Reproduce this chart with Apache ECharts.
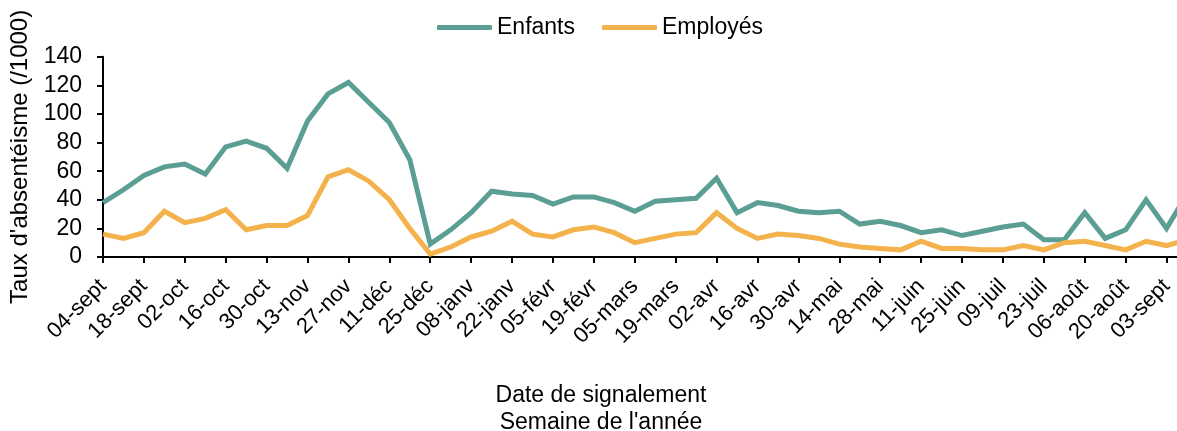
<!DOCTYPE html>
<html>
<head>
<meta charset="utf-8">
<script src="https://cdn.jsdelivr.net/npm/echarts@6/dist/echarts.min.js"></script>
<style>
html,body{margin:0;padding:0;background:#fff;}
#chart{width:1177px;height:431px;}
</style>
</head>
<body>
<div id="chart"></div>
<script>
const weeks = ["04-sept","11-sept","18-sept","25-sept","02-oct","09-oct","16-oct","23-oct","30-oct","06-nov","13-nov","20-nov","27-nov","04-déc","11-déc","18-déc","25-déc","01-janv","08-janv","15-janv","22-janv","29-janv","05-févr","12-févr","19-févr","26-févr","05-mars","12-mars","19-mars","26-mars","02-avr","09-avr","16-avr","23-avr","30-avr","07-mai","14-mai","21-mai","28-mai","04-juin","11-juin","18-juin","25-juin","02-juil","09-juil","16-juil","23-juil","30-juil","06-août","13-août","20-août","27-août","03-sept","10-sept"];
const enfants = [38,47,57,63,65,58,77,81,76,62,95,114,122,108,94,68,9,19,31,46,44,43,37,42,42,38,32,39,40,41,55,31,38,36,32,31,32,23,25,22,17,19,15,18,21,23,12,12,31,13,19,40,20,44];
const employes = [16,13,17,32,24,27,33,19,22,22,29,56,61,53,40,20,2,7,14,18,25,16,14,19,21,17,10,13,16,17,31,20,13,16,15,13,9,7,6,5,11,6,6,5,5,8,5,10,11,8,5,11,8,12];
const yTicks = {min:0, max:140, interval:20};

const FONT = '"Liberation Sans", Arial, Helvetica, sans-serif';
const chart = echarts.init(document.getElementById('chart'));
chart.setOption({
  animation: false,
  backgroundColor: '#fff',
  textStyle: {fontFamily: FONT, color: '#000'},
  title: {
    text: 'Date de signalement\nSemaine de l\'année',
    left: 601, top: 382, textAlign: 'center', padding: 0,
    textStyle: {fontFamily: FONT, fontSize: 23, fontWeight: 'normal', color: '#000', lineHeight: 27}
  },
  legend: {
    left: 437, top: 16, padding: 0,
    icon: 'roundRect',
    itemWidth: 55, itemHeight: 5, itemGap: 27,
    textStyle: {fontFamily: FONT, fontSize: 23, color: '#000'},
    data: ['Enfants','Employés']
  },
  grid: {left: 103, right: -10, top: 56.7, bottom: 174, containLabel: false, outerBoundsMode: 'none'},
  xAxis: {
    type: 'category',
    data: weeks,
    boundaryGap: false,
    axisLine: {lineStyle: {color: '#000', width: 2}},
    axisTick: {interval: 1, length: 6, lineStyle: {color: '#000', width: 2}},
    axisLabel: {interval: 1, rotate: 45, fontSize: 22, color: '#000', fontFamily: FONT, margin: 26}
  },
  yAxis: {
    type: 'value',
    min: yTicks.min, max: yTicks.max, interval: yTicks.interval,
    name: 'Taux d\'absentéisme (/1000)',
    nameLocation: 'middle', nameGap: 63,
    nameTextStyle: {fontSize: 24, color: '#000', fontFamily: FONT},
    axisLine: {show: true, lineStyle: {color: '#000', width: 2}},
    axisTick: {show: true, length: 6, lineStyle: {color: '#000', width: 2}},
    axisLabel: {fontSize: 23, color: '#000', fontFamily: FONT, margin: 21},
    splitLine: {show: false}
  },
  series: [
    {name: 'Enfants', type: 'line', data: enfants, symbol: 'none', color: '#5b9e94',
     lineStyle: {width: 5, color: '#5b9e94', join: 'miter'}},
    {name: 'Employés', type: 'line', data: employes, symbol: 'none', color: '#f3b24b',
     lineStyle: {width: 5, color: '#f3b24b', join: 'miter'}}
  ]
});
</script>
</body>
</html>
